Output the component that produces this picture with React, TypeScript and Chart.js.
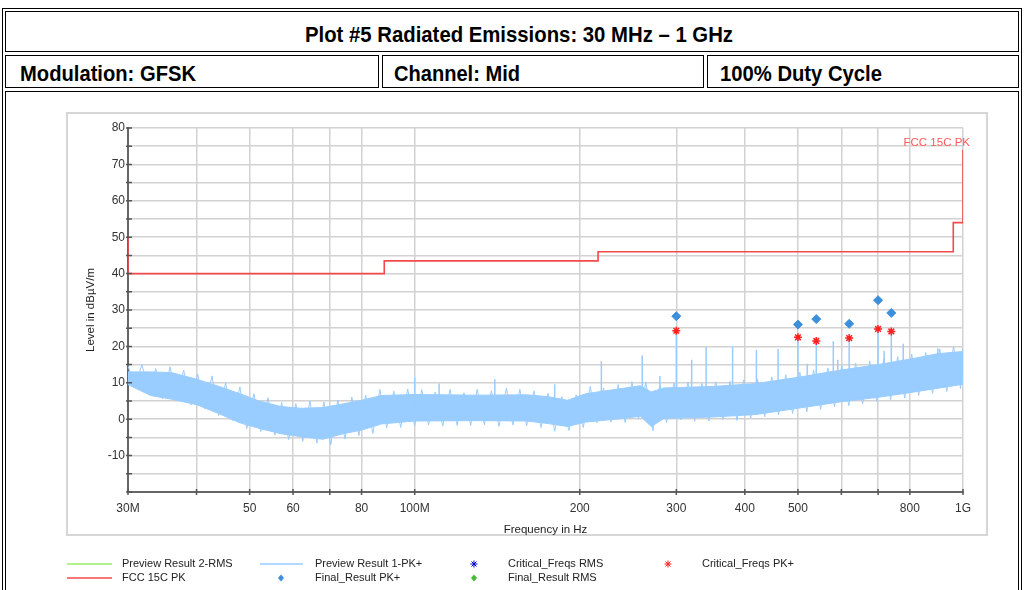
import React, { useEffect, useRef } from 'react';
import { Chart, registerables } from 'chart.js';

Chart.register(...registerables);

// ---------- data ----------
const xTickFreqs = [30, 40, 50, 60, 70, 80, 100, 200, 300, 400, 500, 600, 700, 800, 1000];
const xTickLabels = ['30M', '', '50', '60', '', '80', '100M', '200', '300', '400', '500', '', '', '800', '1G'];

const yTickValues = [-20, -15, -10, -5, 0, 5, 10, 15, 20, 25, 30, 35, 40, 45, 50, 55, 60, 65, 70, 75, 80];
const yTickLabels = ['', '', '-10', '', '0', '', '10', '', '20', '', '30', '', '40', '', '50', '', '60', '', '70', '', '80'];

// FCC 15C PK limit (MHz, dBµV/m)
const limitFreqs = [30, 30, 88, 88, 216, 216, 960, 960, 1000, 1000];
const limitLevels = [50, 40, 40, 43.5, 43.5, 46, 46, 54, 54, 74];

// Preview Result 1-PK+ : dense core of the trace (MHz)
const coreFreqs = [30, 33, 36, 40, 44, 48, 52, 57, 62, 68, 74, 80, 87, 100, 130, 160, 175, 190, 205, 240, 258, 270, 285, 350, 420, 500, 600, 700, 800, 900, 1000];
const coreUpper = [13, 13, 12.8, 11, 9, 7, 5, 3.5, 3, 3.2, 4.2, 5.2, 6.5, 6.8, 6.6, 6.7, 6.2, 5.2, 7, 8.5, 9.2, 7.5, 8.6, 9, 9.8, 11.5, 13.5, 15, 16.5, 18, 18.6];
const coreLower = [9.5, 6.5, 5.5, 4, 1.5, -1, -2.5, -4, -4.8, -5.5, -4, -3, -1.3, -0.5, -0.4, -0.5, -1.2, -2, -0.8, 0.2, 0.8, -2, 0.2, 0.6, 1.3, 3, 4.8, 6, 7.3, 8.5, 9.6];

// Preview Result 1-PK+ : sweep samples (MHz, dBµV/m)
const traceFreqs = [30, 30.9, 31.8, 32.8, 33.7, 34.7, 35.8, 36.8, 37.9, 39.1, 40.2, 41.4, 42.7, 43.9, 45.2, 46.6, 48.0, 49.4, 50.9, 52.4, 54.0, 55.6, 57.2, 58.9, 60.7, 62.5, 64.4, 66.3, 68.3, 70.3, 72.4, 74.6, 76.8, 79.1, 81.4, 83.9, 86.4, 88.9, 91.6, 94.3, 97.1, 100, 103, 106, 109, 112.5, 116, 119.5, 123, 126.5, 130, 134, 138, 142.5, 147, 151, 155.5, 160, 165, 170, 175, 180, 185.5, 191, 197, 203, 209, 215, 221, 228, 235, 242, 249, 256, 264, 272, 280, 288, 297, 306, 315, 324, 334, 344, 354, 365, 376, 387, 398, 410, 422, 435, 448, 461, 475, 489, 504, 519, 534, 550, 567, 583, 601, 619, 637, 656, 676, 696, 717, 738, 760, 783, 806, 830, 855, 880, 907, 934, 961, 990, 1000];
const traceLevels = [14.6, 8.9, 15.0, 7.4, 13.9, 5.6, 14.4, 5.1, 13.5, 3.9, 12.4, 2.9, 11.9, 1.0, 10.0, -0.4, 8.9, -2.6, 7.0, -3.4, 5.9, -4.4, 4.6, -5.6, 4.3, -6.1, 5.0, -6.6, 4.7, -7.0, 5.3, -5.4, 6.1, -4.5, 6.6, -3.9, 8.2, -2.4, 7.7, -2.3, 8.3, -1.8, 8.1, -1.6, 7.5, -1.9, 8.2, -1.7, 7.3, -1.7, 8.2, -1.5, 7.8, -2.0, 8.6, -1.6, 8.2, -1.8, 7.8, -2.3, 7.1, -3.3, 6.2, -3.1, 6.7, -2.3, 9.0, -1.0, 8.6, -0.8, 9.5, -0.9, 10.3, 0.0, 10.2, -3.2, 9.4, -0.9, 9.9, -0.2, 10.2, -0.6, 9.8, -0.5, 10.3, -0.1, 10.4, -0.3, 10.8, 0.3, 11.0, 0.7, 11.6, 1.2, 12.2, 1.6, 12.9, 2.0, 13.5, 2.7, 14.1, 3.4, 14.8, 3.7, 15.4, 4.2, 16.0, 4.9, 16.6, 5.4, 17.2, 5.8, 17.9, 6.5, 18.3, 7.1, 19.3, 7.6, 20.0, 8.4, 19.5];

// narrow spikes of the preview trace
const spikeFreqs = [100, 110.8, 140, 180, 219, 260, 280, 300, 320, 340, 380, 420, 460, 500, 520, 540, 580, 591, 620, 700, 718, 740, 778, 900];
const spikeTops = [11.4, 9.8, 11.0, 9.6, 15.9, 17.5, 11.9, 24.3, 16.3, 19.9, 19.8, 19.1, 19.3, 22.5, 15.2, 21.5, 21.4, 16.3, 22.3, 24.8, 18.8, 24.1, 20.7, 19.5];
const spikeBases = [3.0, 3.0, 3.0, 3.0, 4.0, 4.0, 4.0, 5.0, 5.0, 5.0, 5.0, 5.5, 6.0, 7.0, 7.0, 8.0, 8.5, 9.0, 9.0, 10.0, 10.5, 10.5, 11.0, 12.0];

// Final / critical frequencies
const finalFreqs = [300, 500, 540, 620, 700, 740];
const finalPk = [28.3, 26.0, 27.5, 26.2, 32.7, 29.2];
const criticalPk = [24.3, 22.5, 21.5, 22.3, 24.8, 24.1];

// header texts
const titleText = 'Plot #5 Radiated Emissions: 30 MHz – 1 GHz';
const headerTexts = ['Modulation: GFSK', 'Channel: Mid', '100% Duty Cycle'];

// ---------- colours ----------
const C_LIMIT = '#f24a4a';
const C_PREVIEW = '#99ccff';
const C_FINAL = '#3d8fdc';
const C_CRIT = '#ff2020';

const FONT = "'Liberation Sans', Arial, sans-serif";
const HEAD_FONT = "'Liberation Sans', Arial, sans-serif";

let measureCtx: CanvasRenderingContext2D | null = null;
function textWidth(text: string, font: string) {
  if (!measureCtx) measureCtx = document.createElement('canvas').getContext('2d');
  if (!measureCtx) return 1;
  measureCtx.font = font;
  return measureCtx.measureText(text).width || 1;
}

function FitText({ text, size, target, left, top }: { text: string; size: number; target: number; left: number; top: number }) {
  const w = textWidth(text, `bold ${size}px ${HEAD_FONT}`);
  const s = target / w;
  return (
    <span
      style={{
        position: 'absolute',
        left,
        top,
        fontFamily: HEAD_FONT,
        fontWeight: 'bold',
        fontSize: size,
        lineHeight: `${size}px`,
        whiteSpace: 'nowrap',
        color: '#000',
        transform: `scaleX(${s})`,
        transformOrigin: 'left top',
      }}
    >
      {text}
    </span>
  );
}

const decorPlugin = {
  id: 'decor',
  beforeDraw(chart: any) {
    const ctx = chart.ctx;
    ctx.save();
    ctx.strokeStyle = '#d6d6d6';
    ctx.lineWidth = 2;
    ctx.strokeRect(67, 113, 920, 422);
    ctx.restore();
  },
  afterDraw(chart: any) {
    const ctx = chart.ctx;
    const xs = chart.scales.x;
    const ys = chart.scales.y;
    const area = chart.chartArea;
    ctx.save();
    ctx.strokeStyle = '#555';
    ctx.lineWidth = 1.5;
    ctx.beginPath();
    yTickValues.forEach((v) => {
      const py = ys.getPixelForValue(v);
      ctx.moveTo(area.left - 2, py);
      ctx.lineTo(area.left + 4, py);
    });
    xTickFreqs.forEach((f) => {
      const px = xs.getPixelForValue(f);
      ctx.moveTo(px, area.bottom - 3);
      ctx.lineTo(px, area.bottom + 3);
    });
    ctx.stroke();

    ctx.fillStyle = '#222';
    ctx.font = `11.5px ${FONT}`;
    ctx.textAlign = 'center';
    ctx.textBaseline = 'middle';
    ctx.fillText('Frequency in Hz', (area.left + area.right) / 2, 530);
    ctx.save();
    ctx.translate(91, (area.top + area.bottom) / 2);
    ctx.rotate(-Math.PI / 2);
    ctx.fillText('Level in dBµV/m', 0, 0);
    ctx.restore();

    ctx.fillStyle = '#ff5a5a';
    ctx.textAlign = 'right';
    ctx.font = `11.5px ${FONT}`;
    ctx.fillText('FCC 15C PK', 970, 143);

    const r1 = 564;
    const r2 = 578;
    const line = (x1: number, x2: number, y: number, c: string) => {
      ctx.strokeStyle = c;
      ctx.lineWidth = 1.5;
      ctx.beginPath();
      ctx.moveTo(x1, y);
      ctx.lineTo(x2, y);
      ctx.stroke();
    };
    const diamond = (x: number, y: number, c: string) => {
      ctx.fillStyle = c;
      ctx.beginPath();
      ctx.moveTo(x, y - 3.5);
      ctx.lineTo(x + 3, y);
      ctx.lineTo(x, y + 3.5);
      ctx.lineTo(x - 3, y);
      ctx.closePath();
      ctx.fill();
    };
    const star = (x: number, y: number, c: string) => {
      ctx.strokeStyle = c;
      ctx.lineWidth = 1;
      ctx.beginPath();
      for (let i = 0; i < 4; i++) {
        const a = (i * Math.PI) / 4;
        ctx.moveTo(x - 3.5 * Math.cos(a), y - 3.5 * Math.sin(a));
        ctx.lineTo(x + 3.5 * Math.cos(a), y + 3.5 * Math.sin(a));
      }
      ctx.stroke();
    };
    line(67, 112, r1, '#99ee66');
    line(67, 112, r2, C_LIMIT);
    line(260, 303, r1, C_PREVIEW);
    diamond(281, r2, C_FINAL);
    star(474, r1, '#0000dd');
    diamond(474, r2, '#44bb33');
    star(668, r1, C_CRIT);
    ctx.fillStyle = '#222';
    ctx.textAlign = 'left';
    ctx.font = `11px ${FONT}`;
    ctx.fillText('Preview Result 2-RMS', 122, r1);
    ctx.fillText('FCC 15C PK', 122, r2);
    ctx.fillText('Preview Result 1-PK+', 315, r1);
    ctx.fillText('Final_Result PK+', 315, r2);
    ctx.fillText('Critical_Freqs RMS', 508, r1);
    ctx.fillText('Final_Result RMS', 508, r2);
    ctx.fillText('Critical_Freqs PK+', 702, r1);
    ctx.restore();
  },
};

function buildSpikes() {
  const pts: any[] = [];
  spikeFreqs.forEach((f, i) => {
    pts.push({ x: f, y: spikeBases[i] });
    pts.push({ x: f, y: spikeTops[i] });
    pts.push({ x: f, y: null });
  });
  return pts;
}

export default function App() {
  const ref = useRef<HTMLCanvasElement>(null);

  useEffect(() => {
    const canvas = ref.current;
    if (!canvas) return;
    const chart = new Chart(canvas, {
      type: 'line',
      data: {
        datasets: [
          {
            label: 'Final_Result PK+',
            data: finalFreqs.map((f, i) => ({ x: f, y: finalPk[i] })),
            showLine: false,
            pointStyle: 'rectRot',
            pointRadius: 4.5,
            backgroundColor: C_FINAL,
            borderColor: C_FINAL,
            borderWidth: 1,
          },
          {
            label: 'Critical_Freqs PK+',
            data: finalFreqs.map((f, i) => ({ x: f, y: criticalPk[i] })),
            showLine: false,
            pointStyle: 'star',
            pointRadius: 4,
            borderColor: C_CRIT,
            backgroundColor: C_CRIT,
            borderWidth: 1.5,
          },
          {
            label: 'FCC 15C PK',
            data: limitFreqs.map((f, i) => ({ x: f, y: limitLevels[i] })),
            borderColor: C_LIMIT,
            borderWidth: 1.6,
            pointRadius: 0,
            fill: false,
          },
          {
            label: 'spikes',
            data: buildSpikes(),
            borderColor: C_PREVIEW,
            borderWidth: 1.5,
            pointRadius: 0,
            spanGaps: false,
            fill: false,
          },
          {
            label: 'Preview Result 1-PK+',
            data: traceFreqs.map((f, i) => ({ x: f, y: traceLevels[i] })),
            borderColor: C_PREVIEW,
            borderWidth: 1,
            pointRadius: 0,
            fill: false,
          },
          {
            label: 'core upper',
            data: coreFreqs.map((f, i) => ({ x: f, y: coreUpper[i] })),
            borderColor: C_PREVIEW,
            borderWidth: 1,
            pointRadius: 0,
            fill: false,
          },
          {
            label: 'core lower',
            data: coreFreqs.map((f, i) => ({ x: f, y: coreLower[i] })),
            borderColor: C_PREVIEW,
            backgroundColor: C_PREVIEW,
            borderWidth: 1,
            pointRadius: 0,
            fill: '-1',
          },
        ],
      },
      options: {
        responsive: false,
        animation: false,
        events: [],
        layout: { padding: { left: 0, top: 128, right: 61, bottom: 68 } },
        plugins: {
          legend: { display: false },
          tooltip: { enabled: false },
          title: { display: false },
        },
        scales: {
          x: {
            type: 'logarithmic',
            min: 30,
            max: 1000,
            afterBuildTicks: (scale: any) => {
              scale.ticks = xTickFreqs.map((v) => ({ value: v }));
            },
            afterFit: (scale: any) => {
              scale.height = 30;
            },
            ticks: {
              autoSkip: false,
              maxRotation: 0,
              padding: 9,
              color: '#333',
              font: { family: FONT, size: 12 },
              callback: (_v: any, i: number) => xTickLabels[i],
            },
            grid: { color: '#d2d2d2', lineWidth: 1.5, drawTicks: false },
            border: { display: true, color: '#666', width: 2 },
          },
          y: {
            type: 'linear',
            min: -20,
            max: 80,
            afterBuildTicks: (scale: any) => {
              scale.ticks = yTickValues.map((v) => ({ value: v }));
            },
            afterFit: (scale: any) => {
              scale.width = 128;
            },
            ticks: {
              autoSkip: false,
              padding: 3,
              color: '#333',
              font: { family: FONT, size: 12 },
              callback: (_v: any, i: number) => yTickLabels[i],
            },
            grid: { color: '#d2d2d2', lineWidth: 1.5, drawTicks: false },
            border: { display: true, color: '#666', width: 2 },
          },
        },
      },
      plugins: [decorPlugin],
    } as any);
    return () => chart.destroy();
  }, []);

  const box = (l: number, t: number, w: number, h: number): React.CSSProperties => ({
    position: 'absolute',
    left: l,
    top: t,
    width: w,
    height: h,
    border: '1px solid #000',
    boxSizing: 'border-box',
  });

  return (
    <div style={{ position: 'absolute', left: 0, top: 0, width: 1024, height: 590, overflow: 'hidden', background: '#fff' }}>
      <div style={box(2, 8, 1020, 640)} />
      <div style={box(5, 11, 1014, 41)} />
      <div style={box(5, 55, 374, 33)} />
      <div style={box(382, 55, 322, 33)} />
      <div style={box(707, 55, 312, 33)} />
      <div style={box(5, 91, 1014, 600)} />
      <FitText text={titleText} size={22} target={428} left={305} top={24} />
      <FitText text={headerTexts[0]} size={22} target={176} left={20} top={63} />
      <FitText text={headerTexts[1]} size={22} target={126} left={394} top={63} />
      <FitText text={headerTexts[2]} size={22} target={162} left={720} top={63} />
      <canvas
        ref={ref}
        width={1024}
        height={590}
        style={{ position: 'absolute', left: 0, top: 0, width: 1024, height: 590 }}
      />
    </div>
  );
}
